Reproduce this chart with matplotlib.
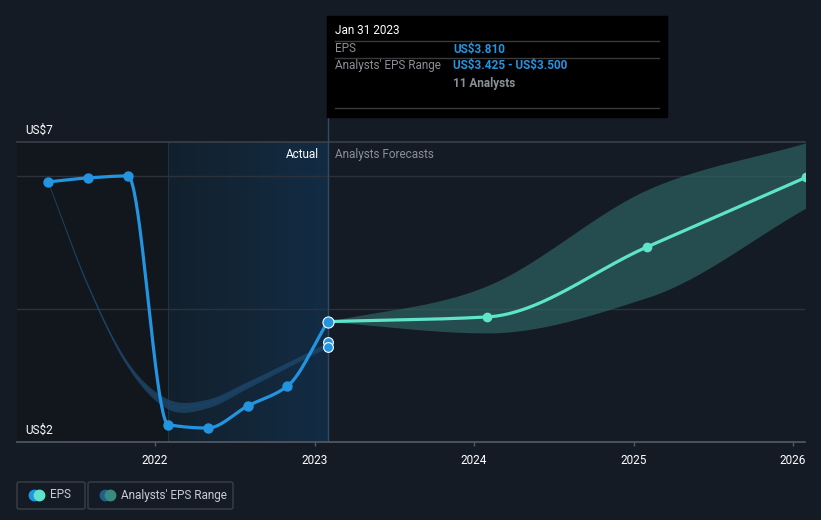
import matplotlib
matplotlib.use("Agg")
import matplotlib.pyplot as plt
import numpy as np
from matplotlib.patches import Rectangle, FancyBboxPatch
from matplotlib.lines import Line2D
from matplotlib.colors import LinearSegmentedColormap

# fiscal quarter ends as decimal years
eps_dates = [2021.33, 2021.58, 2021.83, 2022.083, 2022.33, 2022.58, 2022.83, 2023.083]
eps_values = [5.91, 5.97, 6.00, 2.26, 2.21, 2.54, 2.84, 3.81]

past_range_low = [5.91, 4.33, 3.12, 2.495, 2.515, 2.81, 3.12, 3.425]
past_range_high = [5.91, 4.37, 3.20, 2.645, 2.645, 2.91, 3.20, 3.500]

fc_dates = [2023.083, 2024.083, 2025.083, 2026.083]
fc_mean = [3.81, 3.88, 4.93, 5.98]
fc_low = [3.81, 3.64, 4.17, 5.52]
fc_high = [3.81, 4.35, 5.79, 6.50]

year_ticks = [2022, 2023, 2024, 2025, 2026]

BG = "#151b25"
EPS_BLUE = "#2394e0"
FC_TEAL = "#5fe3c9"
W, H = 821, 520


def pchip(x, y, n=300):
    x = np.asarray(x, float)
    y = np.asarray(y, float)
    h = np.diff(x)
    d = np.diff(y) / h
    m = np.zeros_like(y)
    m[0], m[-1] = d[0], d[-1]
    for k in range(1, len(x) - 1):
        if d[k - 1] * d[k] > 0:
            w1 = 2 * h[k] + h[k - 1]
            w2 = h[k] + 2 * h[k - 1]
            m[k] = (w1 + w2) / (w1 / d[k - 1] + w2 / d[k])
    return hermite(x, y, m, n)


def catmull(x, y, n=300):
    x = np.asarray(x, float)
    y = np.asarray(y, float)
    m = np.gradient(y, x)
    return hermite(x, y, m, n)


def hermite(x, y, m, n):
    h = np.diff(x)
    xs = np.linspace(x[0], x[-1], n)
    idx = np.clip(np.searchsorted(x, xs) - 1, 0, len(x) - 2)
    t = (xs - x[idx]) / h[idx]
    h00 = 2 * t**3 - 3 * t**2 + 1
    h10 = t**3 - 2 * t**2 + t
    h01 = -2 * t**3 + 3 * t**2
    h11 = t**3 - t**2
    ys = h00 * y[idx] + h10 * h[idx] * m[idx] + h01 * y[idx + 1] + h11 * h[idx] * m[idx + 1]
    return xs, ys


def fx(px):
    return px / W


def fy(py):
    return 1 - py / H


fig = plt.figure(figsize=(8.21, 5.20), dpi=100, facecolor=BG)
ax = fig.add_axes([fx(17), fy(442), (805 - 17) / W, (442 - 142) / H])
ax.set_facecolor(BG)
x0 = 2022 - 138 / 159.5
x1 = 2022 + 650 / 159.5
ax.set_xlim(x0, x1)
ax.set_ylim(2, 6.51)

# past / highlighted backgrounds
ax.axvspan(x0, eps_dates[3], color="#12161d", zorder=0, lw=0)
grad = np.linspace(0, 1, 256).reshape(1, -1)
cmap = LinearSegmentedColormap.from_list("hl", ["#13202c", "#122c44"])
ax.imshow(grad, extent=[eps_dates[3], eps_dates[-1], 2, 6.51], aspect="auto",
          cmap=cmap, zorder=0.5, interpolation="bicubic")
ax.axvline(eps_dates[3], color="#1b3346", lw=0.8, zorder=0.6)

# gridlines
for gy in [4, 6]:
    ax.axhline(gy, color="#2c323c", lw=1, zorder=1)
ax.axhline(6.51, color="#3a404a", lw=1.2, zorder=1, clip_on=False)

# past analysts range band
xs, lo = catmull(eps_dates, past_range_low)
_, hi = catmull(eps_dates, past_range_high)
ax.fill_between(xs, lo, hi, color="#1d4669", alpha=0.8, lw=0, zorder=2)
ax.plot(xs, (lo + hi) / 2, color="#1d4669", lw=0.7, alpha=0.8, zorder=2)

# forecast range band
xs, lo = pchip(fc_dates, fc_low)
_, hi = catmull(fc_dates, fc_high)
ax.fill_between(xs, lo, hi, color="#2f6865", alpha=0.65, lw=0, zorder=2)

# forecast line
xs, ys = pchip(fc_dates, fc_mean)
ax.plot(xs, ys, color=FC_TEAL, lw=2.3, zorder=3, solid_capstyle="round")
ax.plot(fc_dates[1:], fc_mean[1:], "o", color=FC_TEAL, ms=6, zorder=4)

# eps line
xs, ys = pchip(eps_dates, eps_values)
ax.plot(xs, ys, color=EPS_BLUE, lw=2.3, zorder=5, solid_capstyle="round")
ax.plot(eps_dates[:-1], eps_values[:-1], "o", color=EPS_BLUE, ms=6.5, zorder=6)
ax.plot([eps_dates[-1]] * 2, [past_range_high[-1], past_range_low[-1]], "o",
        color=EPS_BLUE, ms=7, mec="white", mew=0.8, zorder=6)
ax.plot(eps_dates[-1], eps_values[-1], "o", color=EPS_BLUE, ms=8, mec="white",
        mew=0.8, zorder=7)

# axes styling
for s in ["top", "right", "left"]:
    ax.spines[s].set_visible(False)
ax.spines["bottom"].set_color("#555b64")
ax.spines["bottom"].set_linewidth(1.2)
ax.set_yticks([])
ax.set_xticks(year_ticks)
ax.set_xticklabels([str(y) for y in year_ticks])
ax.tick_params(axis="x", colors="#555b64", length=3, width=1, pad=6)
for lbl in ax.get_xticklabels():
    lbl.set_color("white")
    lbl.set_fontsize(8.5)
    lbl.set_family("Roboto")

# vertical marker line at latest actual
ax.plot([eps_dates[-1]] * 2, [2, 6.51], color="#2b4b66", lw=1, zorder=1.5)
fig.add_artist(Line2D([fx(327.5)] * 2, [fy(142), fy(117)], color="#2b4b66", lw=1))

# y labels
fig.text(fx(25), fy(130), "US\\$7", color="white", fontsize=8.5, family="Roboto", va="center")
fig.text(fx(25), fy(430), "US\\$2", color="white", fontsize=8.5, family="Roboto", va="center")

fig.text(fx(319), fy(154), "Actual", color="white", fontsize=8.5, family="Roboto",
         ha="right", va="center")
fig.text(fx(335), fy(154), "Analysts Forecasts", color="#8a8f96", fontsize=8.5,
         family="Roboto", ha="left", va="center")

# tooltip
fig.add_artist(Rectangle((fx(327), fy(117)), (667 - 327) / W, (117 - 16) / H,
                         transform=fig.transFigure, color="black", zorder=10))
for ly in [41, 58, 108]:
    fig.add_artist(Line2D([fx(335), fx(659)], [fy(ly)] * 2, color="#3a3a3a", lw=1, zorder=11))
fig.text(fx(335), fy(31), "Jan 31 2023", color="white", fontsize=8.5, family="Roboto",
         va="center", zorder=12)
fig.text(fx(335), fy(49), "EPS", color="#8a8f96", fontsize=8.5, family="Roboto",
         va="center", zorder=12)
fig.text(fx(453), fy(49), "US\\$3.810", color=EPS_BLUE, fontsize=8.5, family="Roboto",
         weight="bold", va="center", zorder=12)
fig.text(fx(335), fy(66), "Analysts' EPS Range", color="#8a8f96", fontsize=8.5,
         family="Roboto", va="center", zorder=12)
fig.text(fx(453), fy(66), "US\\$3.425 - US\\$3.500", color=EPS_BLUE, fontsize=8.5,
         family="Roboto", weight="bold", va="center", zorder=12)
fig.text(fx(453), fy(83), "11 Analysts", color="#8a8f96", fontsize=8.5, family="Roboto",
         weight="bold", va="center", zorder=12)

# legend
for (lx0, lx1, label, c1, c2) in [(17, 85, "EPS", EPS_BLUE, FC_TEAL),
                                   (88, 233, "Analysts' EPS Range", "#1f5f8a", "#3a8a80")]:
    fig.add_artist(FancyBboxPatch((fx(lx0), fy(509)), (lx1 - lx0) / W, 27 / H,
                                  boxstyle="round,pad=0,rounding_size=0.003",
                                  transform=fig.transFigure, fc="none", ec="#3a404a", lw=1))
    fig.add_artist(Line2D([fx(lx0 + 17)], [fy(495)], marker="o", color=c1, ms=7.5))
    fig.add_artist(Line2D([fx(lx0 + 22)], [fy(495)], marker="o", color=c2, ms=7.5))
    fig.text(fx(lx0 + 33), fy(495), label, color="#c8ccd0", fontsize=8.5, family="Roboto",
             va="center")

fig.savefig("out.png", dpi=100, facecolor=BG)
